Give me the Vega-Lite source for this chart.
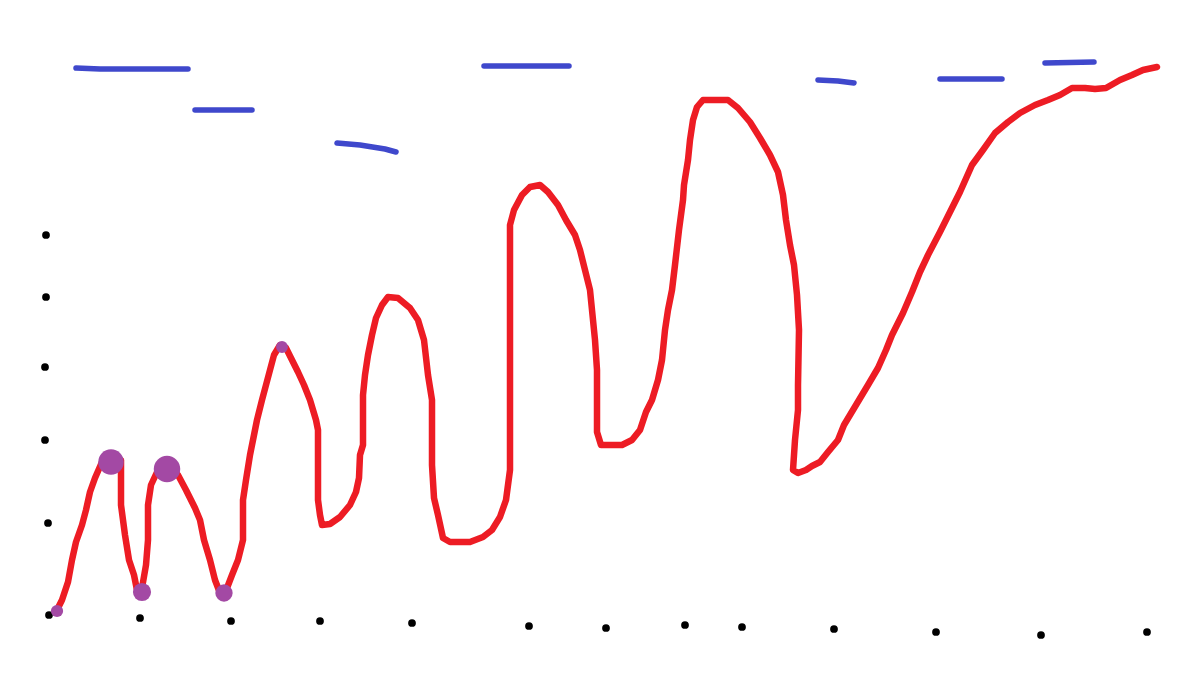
{
  "$schema": "https://vega.github.io/schema/vega-lite/v6.json",
  "autosize": {"type": "fit", "contains": "padding"},
  "width": 1200,
  "height": 676,
  "padding": 0,
  "background": "white",
  "config": {"view": {"stroke": null}},
  "datasets": {
    "ticks": [
      {"x": 46, "y": 235}, {"x": 46, "y": 297}, {"x": 45, "y": 367}, {"x": 45, "y": 440}, {"x": 48, "y": 523}, {"x": 49, "y": 615},
      {"x": 140, "y": 618}, {"x": 231, "y": 621}, {"x": 320, "y": 621}, {"x": 412, "y": 623}, {"x": 529, "y": 626}, {"x": 606, "y": 628},
      {"x": 685, "y": 625}, {"x": 742, "y": 627}, {"x": 834, "y": 629}, {"x": 936, "y": 632}, {"x": 1041, "y": 635}, {"x": 1147, "y": 632}
    ],
    "segments": [
      {"s": "a", "i": 0, "x": 76, "y": 68}, {"s": "a", "i": 1, "x": 100, "y": 69}, {"s": "a", "i": 2, "x": 188, "y": 69},
      {"s": "b", "i": 0, "x": 195, "y": 110}, {"s": "b", "i": 1, "x": 252, "y": 110},
      {"s": "c", "i": 0, "x": 337, "y": 143}, {"s": "c", "i": 1, "x": 360, "y": 145}, {"s": "c", "i": 2, "x": 385, "y": 149}, {"s": "c", "i": 3, "x": 396, "y": 152},
      {"s": "d", "i": 0, "x": 484, "y": 66}, {"s": "d", "i": 1, "x": 569, "y": 66},
      {"s": "e", "i": 0, "x": 818, "y": 80}, {"s": "e", "i": 1, "x": 838, "y": 81}, {"s": "e", "i": 2, "x": 854, "y": 83},
      {"s": "f", "i": 0, "x": 940, "y": 79}, {"s": "f", "i": 1, "x": 1002, "y": 79},
      {"s": "g", "i": 0, "x": 1045, "y": 63}, {"s": "g", "i": 1, "x": 1094, "y": 62}
    ],
    "curve": [
      {"i": 0, "x": 56, "y": 612}, {"i": 1, "x": 62, "y": 600}, {"i": 2, "x": 68, "y": 582}, {"i": 3, "x": 72, "y": 560},
      {"i": 4, "x": 76, "y": 542}, {"i": 5, "x": 82, "y": 525}, {"i": 6, "x": 86, "y": 510}, {"i": 7, "x": 90, "y": 492},
      {"i": 8, "x": 95, "y": 478}, {"i": 9, "x": 102, "y": 462}, {"i": 10, "x": 110, "y": 456}, {"i": 11, "x": 121, "y": 460},
      {"i": 12, "x": 121, "y": 505}, {"i": 13, "x": 125, "y": 535}, {"i": 14, "x": 129, "y": 560}, {"i": 15, "x": 134, "y": 575},
      {"i": 16, "x": 137, "y": 590}, {"i": 17, "x": 142, "y": 588}, {"i": 18, "x": 146, "y": 565}, {"i": 19, "x": 148, "y": 540},
      {"i": 20, "x": 148, "y": 505}, {"i": 21, "x": 151, "y": 485}, {"i": 22, "x": 158, "y": 470}, {"i": 23, "x": 168, "y": 465},
      {"i": 24, "x": 178, "y": 475}, {"i": 25, "x": 186, "y": 490}, {"i": 26, "x": 195, "y": 508}, {"i": 27, "x": 200, "y": 520},
      {"i": 28, "x": 204, "y": 540}, {"i": 29, "x": 210, "y": 560}, {"i": 30, "x": 215, "y": 580}, {"i": 31, "x": 220, "y": 593},
      {"i": 32, "x": 227, "y": 588}, {"i": 33, "x": 232, "y": 575}, {"i": 34, "x": 238, "y": 560}, {"i": 35, "x": 243, "y": 540},
      {"i": 36, "x": 243, "y": 500}, {"i": 37, "x": 246, "y": 480}, {"i": 38, "x": 250, "y": 455}, {"i": 39, "x": 253, "y": 440},
      {"i": 40, "x": 257, "y": 420}, {"i": 41, "x": 262, "y": 400}, {"i": 42, "x": 266, "y": 385}, {"i": 43, "x": 270, "y": 370},
      {"i": 44, "x": 274, "y": 355}, {"i": 45, "x": 280, "y": 345}, {"i": 46, "x": 286, "y": 348}, {"i": 47, "x": 292, "y": 360},
      {"i": 48, "x": 298, "y": 372}, {"i": 49, "x": 304, "y": 385}, {"i": 50, "x": 310, "y": 400}, {"i": 51, "x": 316, "y": 420},
      {"i": 52, "x": 318, "y": 430}, {"i": 53, "x": 318, "y": 500}, {"i": 54, "x": 320, "y": 515}, {"i": 55, "x": 322, "y": 525},
      {"i": 56, "x": 330, "y": 524}, {"i": 57, "x": 340, "y": 517}, {"i": 58, "x": 350, "y": 505}, {"i": 59, "x": 356, "y": 492},
      {"i": 60, "x": 359, "y": 478}, {"i": 61, "x": 360, "y": 455}, {"i": 62, "x": 363, "y": 445}, {"i": 63, "x": 363, "y": 395},
      {"i": 64, "x": 365, "y": 375}, {"i": 65, "x": 368, "y": 355}, {"i": 66, "x": 372, "y": 335}, {"i": 67, "x": 376, "y": 318},
      {"i": 68, "x": 382, "y": 305}, {"i": 69, "x": 388, "y": 297}, {"i": 70, "x": 398, "y": 298}, {"i": 71, "x": 410, "y": 308},
      {"i": 72, "x": 418, "y": 320}, {"i": 73, "x": 424, "y": 340}, {"i": 74, "x": 428, "y": 375}, {"i": 75, "x": 432, "y": 400},
      {"i": 76, "x": 432, "y": 465}, {"i": 77, "x": 434, "y": 498}, {"i": 78, "x": 438, "y": 515}, {"i": 79, "x": 443, "y": 538},
      {"i": 80, "x": 450, "y": 542}, {"i": 81, "x": 470, "y": 542}, {"i": 82, "x": 483, "y": 537}, {"i": 83, "x": 492, "y": 530},
      {"i": 84, "x": 500, "y": 517}, {"i": 85, "x": 506, "y": 500}, {"i": 86, "x": 510, "y": 470}, {"i": 87, "x": 510, "y": 290},
      {"i": 88, "x": 510, "y": 225}, {"i": 89, "x": 514, "y": 210}, {"i": 90, "x": 522, "y": 195}, {"i": 91, "x": 530, "y": 187},
      {"i": 92, "x": 540, "y": 185}, {"i": 93, "x": 548, "y": 192}, {"i": 94, "x": 558, "y": 205}, {"i": 95, "x": 566, "y": 220},
      {"i": 96, "x": 575, "y": 235}, {"i": 97, "x": 580, "y": 250}, {"i": 98, "x": 585, "y": 270}, {"i": 99, "x": 590, "y": 290},
      {"i": 100, "x": 592, "y": 310}, {"i": 101, "x": 595, "y": 340}, {"i": 102, "x": 597, "y": 370}, {"i": 103, "x": 597, "y": 432},
      {"i": 104, "x": 601, "y": 445}, {"i": 105, "x": 622, "y": 445}, {"i": 106, "x": 632, "y": 440}, {"i": 107, "x": 640, "y": 430},
      {"i": 108, "x": 646, "y": 412}, {"i": 109, "x": 652, "y": 400}, {"i": 110, "x": 658, "y": 380}, {"i": 111, "x": 662, "y": 360},
      {"i": 112, "x": 665, "y": 330}, {"i": 113, "x": 668, "y": 310}, {"i": 114, "x": 672, "y": 290}, {"i": 115, "x": 675, "y": 265},
      {"i": 116, "x": 679, "y": 230}, {"i": 117, "x": 683, "y": 200}, {"i": 118, "x": 684, "y": 185}, {"i": 119, "x": 688, "y": 160},
      {"i": 120, "x": 690, "y": 140}, {"i": 121, "x": 693, "y": 120}, {"i": 122, "x": 697, "y": 107}, {"i": 123, "x": 703, "y": 100},
      {"i": 124, "x": 728, "y": 100}, {"i": 125, "x": 738, "y": 108}, {"i": 126, "x": 750, "y": 122}, {"i": 127, "x": 760, "y": 138},
      {"i": 128, "x": 770, "y": 155}, {"i": 129, "x": 778, "y": 172}, {"i": 130, "x": 783, "y": 195}, {"i": 131, "x": 786, "y": 220},
      {"i": 132, "x": 790, "y": 245}, {"i": 133, "x": 794, "y": 265}, {"i": 134, "x": 797, "y": 295}, {"i": 135, "x": 799, "y": 330},
      {"i": 136, "x": 798, "y": 385}, {"i": 137, "x": 798, "y": 410}, {"i": 138, "x": 795, "y": 440}, {"i": 139, "x": 793, "y": 470},
      {"i": 140, "x": 798, "y": 473}, {"i": 141, "x": 806, "y": 470}, {"i": 142, "x": 812, "y": 466}, {"i": 143, "x": 820, "y": 462},
      {"i": 144, "x": 828, "y": 452}, {"i": 145, "x": 838, "y": 440}, {"i": 146, "x": 844, "y": 425}, {"i": 147, "x": 856, "y": 405},
      {"i": 148, "x": 868, "y": 385}, {"i": 149, "x": 878, "y": 368}, {"i": 150, "x": 886, "y": 350}, {"i": 151, "x": 892, "y": 335},
      {"i": 152, "x": 903, "y": 313}, {"i": 153, "x": 912, "y": 292}, {"i": 154, "x": 920, "y": 272}, {"i": 155, "x": 928, "y": 255},
      {"i": 156, "x": 940, "y": 232}, {"i": 157, "x": 950, "y": 212}, {"i": 158, "x": 960, "y": 192}, {"i": 159, "x": 972, "y": 165},
      {"i": 160, "x": 983, "y": 150}, {"i": 161, "x": 995, "y": 133}, {"i": 162, "x": 1008, "y": 122}, {"i": 163, "x": 1020, "y": 113},
      {"i": 164, "x": 1035, "y": 105}, {"i": 165, "x": 1048, "y": 100}, {"i": 166, "x": 1060, "y": 95}, {"i": 167, "x": 1072, "y": 88},
      {"i": 168, "x": 1085, "y": 88}, {"i": 169, "x": 1095, "y": 89}, {"i": 170, "x": 1106, "y": 88}, {"i": 171, "x": 1120, "y": 80},
      {"i": 172, "x": 1132, "y": 75}, {"i": 173, "x": 1143, "y": 70}, {"i": 174, "x": 1157, "y": 67}
    ],
    "marks": [
      {"x": 57, "y": 611, "r": 150}, {"x": 111, "y": 462, "r": 650}, {"x": 142, "y": 592, "r": 330},
      {"x": 167, "y": 469, "r": 700}, {"x": 224, "y": 593, "r": 300}, {"x": 282, "y": 347, "r": 140}
    ]
  },
  "layer": [
    {
      "data": {"name": "ticks"},
      "mark": {"type": "point", "filled": true, "color": "black", "size": 60, "opacity": 1},
      "encoding": {
        "x": {"field": "x", "type": "quantitative", "scale": {"domain": [0, 1200], "nice": false, "zero": false}, "axis": null},
        "y": {"field": "y", "type": "quantitative", "scale": {"domain": [0, 676], "reverse": true, "nice": false, "zero": false}, "axis": null}
      }
    },
    {
      "data": {"name": "segments"},
      "mark": {"type": "line", "color": "#3f48cc", "strokeWidth": 5.5, "strokeCap": "round", "strokeJoin": "round"},
      "encoding": {
        "x": {"field": "x", "type": "quantitative", "scale": {"domain": [0, 1200], "nice": false, "zero": false}, "axis": null},
        "y": {"field": "y", "type": "quantitative", "scale": {"domain": [0, 676], "reverse": true, "nice": false, "zero": false}, "axis": null},
        "detail": {"field": "s", "type": "nominal"},
        "order": {"field": "i", "type": "quantitative"}
      }
    },
    {
      "data": {"name": "curve"},
      "mark": {"type": "line", "color": "#ed1c24", "strokeWidth": 6.5, "strokeCap": "round", "strokeJoin": "round"},
      "encoding": {
        "x": {"field": "x", "type": "quantitative", "scale": {"domain": [0, 1200], "nice": false, "zero": false}, "axis": null},
        "y": {"field": "y", "type": "quantitative", "scale": {"domain": [0, 676], "reverse": true, "nice": false, "zero": false}, "axis": null},
        "order": {"field": "i", "type": "quantitative"}
      }
    },
    {
      "data": {"name": "marks"},
      "mark": {"type": "circle", "color": "#a349a4", "opacity": 1},
      "encoding": {
        "x": {"field": "x", "type": "quantitative", "scale": {"domain": [0, 1200], "nice": false, "zero": false}, "axis": null},
        "y": {"field": "y", "type": "quantitative", "scale": {"domain": [0, 676], "reverse": true, "nice": false, "zero": false}, "axis": null},
        "size": {"field": "r", "type": "quantitative", "scale": {"domain": [0, 800], "range": [0, 800], "zero": true}, "legend": null}
      }
    }
  ]
}
